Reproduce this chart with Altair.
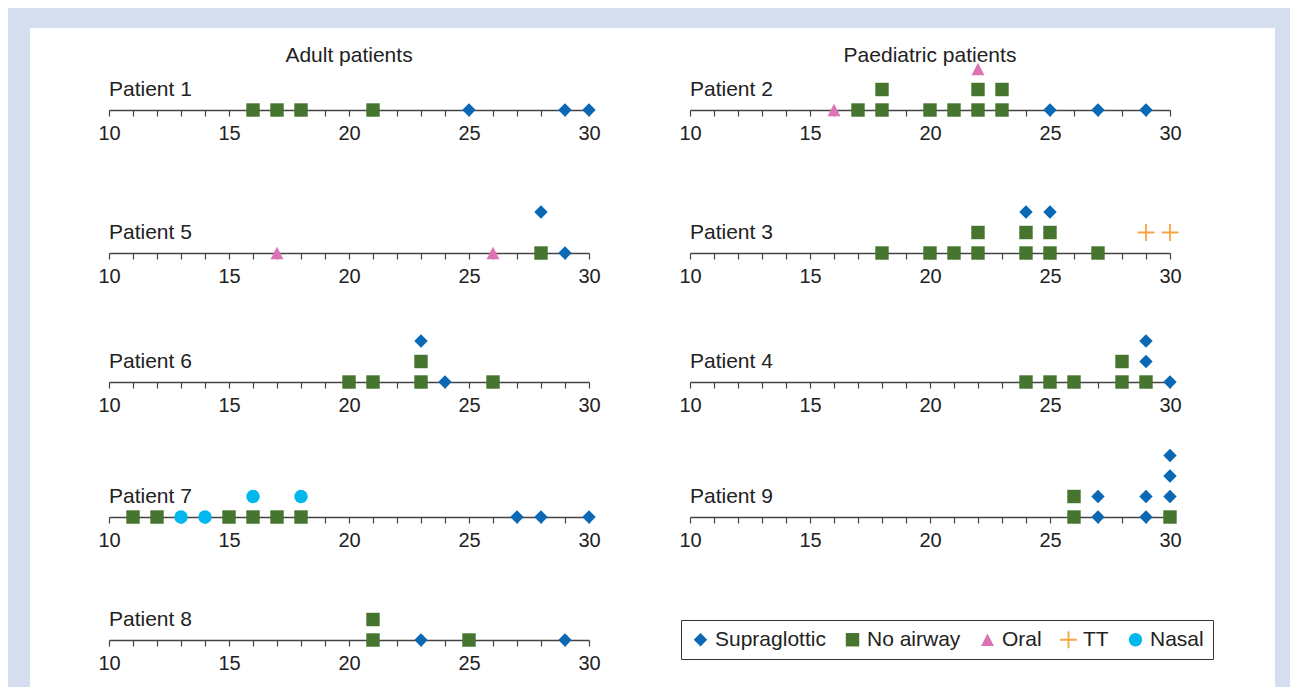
import altair as alt
import pandas as pd

# ---------------- data ----------------
TYPES = ["Supraglottic", "No airway", "Oral", "TT", "Nasal"]
COLORS = ["#0a68b4", "#46752f", "#dd72b4", "#f9a444", "#00b8ee"]
PLUS = "M-1.25,-0.14H-0.14V-1.25H0.14V-0.14H1.25V0.14H0.14V1.25H-0.14V0.14H-1.25Z"
TRI = "M0,-0.92L0.96,0.92L-0.96,0.92Z"
SHAPES = ["diamond", "square", TRI, PLUS, "circle"]
S, N, O, T, NA = TYPES

p1_values = [16, 17, 18, 21, 25, 29, 30]
p1_types = [N, N, N, N, S, S, S]
p1_levels = [0, 0, 0, 0, 0, 0, 0]

p2_values = [16, 22, 17, 18, 18, 20, 21, 22, 22, 23, 23, 25, 27, 29]
p2_types = [O, O, N, N, N, N, N, N, N, N, N, S, S, S]
p2_levels = [0, 2, 0, 0, 1, 0, 0, 0, 1, 0, 1, 0, 0, 0]

p5_values = [17, 26, 28, 28, 29]
p5_types = [O, O, N, S, S]
p5_levels = [0, 0, 0, 2, 0]

p3_values = [18, 20, 21, 22, 22, 24, 24, 25, 25, 27, 24, 25, 29, 30]
p3_types = [N, N, N, N, N, N, N, N, N, N, S, S, T, T]
p3_levels = [0, 0, 0, 0, 1, 0, 1, 0, 1, 0, 2, 2, 1, 1]

p6_values = [20, 21, 23, 23, 26, 23, 24]
p6_types = [N, N, N, N, N, S, S]
p6_levels = [0, 0, 0, 1, 0, 2, 0]

p4_values = [24, 25, 26, 28, 28, 29, 29, 29, 30]
p4_types = [N, N, N, N, N, N, S, S, S]
p4_levels = [0, 0, 0, 0, 1, 0, 1, 2, 0]

p7_values = [11, 12, 15, 16, 17, 18, 13, 14, 16, 18, 27, 28, 30]
p7_types = [N, N, N, N, N, N, NA, NA, NA, NA, S, S, S]
p7_levels = [0, 0, 0, 0, 0, 0, 0, 0, 1, 1, 0, 0, 0]

p9_values = [26, 26, 30, 27, 27, 29, 29, 30, 30, 30]
p9_types = [N, N, N, S, S, S, S, S, S, S]
p9_levels = [0, 1, 0, 0, 1, 0, 1, 1, 2, 3]

p8_values = [21, 21, 25, 23, 29]
p8_types = [N, N, N, S, S]
p8_levels = [0, 1, 0, 0, 0]

TICKS = list(range(10, 31))

# ---------------- layout ----------------
FONT = "Liberation Sans"
LV = 20.5          # pixels per stack level
W = 480
GAP = 101
ROW_H = [39, 143, 129, 135, 123]

LEG = alt.Legend(
    title=None, orient="none", legendX=572, legendY=559, direction="horizontal",
    labelFontSize=21, labelFont=FONT, labelColor="#222", symbolSize=180,
    symbolStrokeWidth=0, symbolOpacity=1, columnPadding=16, labelOffset=4,
    padding=9, strokeColor="#333", fillColor="white", labelLimit=300,
)


def panel(name, values, types, levels, h, title=None):
    df = pd.DataFrame({"value": values, "type": types, "level": levels})
    pts = alt.Chart(df).mark_point(filled=True, opacity=1, size=180, strokeWidth=0).encode(
        x=alt.X("value:Q", scale=alt.Scale(domain=[10, 30], nice=False, zero=False),
                axis=alt.Axis(values=TICKS, tickCount=len(TICKS), title=None, labelOverlap=False,
                              labelExpr="datum.value % 5 === 0 ? datum.label : ''")),
        y=alt.Y("level:Q", scale=alt.Scale(domain=[0, h / LV], nice=False, zero=False), axis=None),
        color=alt.Color("type:N", scale=alt.Scale(domain=TYPES, range=COLORS), legend=LEG),
        shape=alt.Shape("type:N", scale=alt.Scale(domain=TYPES, range=SHAPES), legend=LEG),
    )
    lab = alt.Chart(pd.DataFrame({"t": [name]})).mark_text(
        align="left", baseline="middle", fontSize=21, font=FONT, color="#222"
    ).encode(x=alt.datum(10), y=alt.datum(1), text="t:N")
    layers = [pts, lab]
    if title:
        layers.append(alt.Chart(pd.DataFrame({"t": [title]})).mark_text(
            align="center", baseline="middle", fontSize=21, font=FONT, color="#222"
        ).encode(x=alt.datum(20), y=alt.value(-15), text="t:N"))
    return alt.layer(*layers).properties(width=W, height=h)


header_bg = alt.Chart(pd.DataFrame({"a": [0]})).mark_rect(color="white").encode(
    x=alt.value(-79), x2=alt.value(1166), y=alt.value(-33), y2=alt.value(626)
).properties(width=W, height=10)
header_empty = alt.Chart(pd.DataFrame({"a": [0]})).mark_rect(opacity=0).encode(
    x=alt.value(0), x2=alt.value(1), y=alt.value(0), y2=alt.value(1)
).properties(width=W, height=10)

cells = [
    header_bg, header_empty,
    panel("Patient 1", p1_values, p1_types, p1_levels, ROW_H[0], "Adult patients"),
    panel("Patient 2", p2_values, p2_types, p2_levels, ROW_H[0], "Paediatric patients"),
    panel("Patient 5", p5_values, p5_types, p5_levels, ROW_H[1]),
    panel("Patient 3", p3_values, p3_types, p3_levels, ROW_H[1]),
    panel("Patient 6", p6_values, p6_types, p6_levels, ROW_H[2]),
    panel("Patient 4", p4_values, p4_types, p4_levels, ROW_H[2]),
    panel("Patient 7", p7_values, p7_types, p7_levels, ROW_H[3]),
    panel("Patient 9", p9_values, p9_types, p9_levels, ROW_H[3]),
    panel("Patient 8", p8_values, p8_types, p8_levels, ROW_H[4]),
]

chart = alt.concat(*cells, columns=2, spacing={"row": 0, "column": GAP},
                   bounds="flush", align="each").properties(
    padding={"left": 22, "top": 20, "right": 15, "bottom": 0},
    background="#d5deef",
).configure_view(stroke=None).configure_axis(
    grid=False, domainColor="#444", domainWidth=1.3, tickColor="#444", tickWidth=1.2,
    tickSize=6, labelFontSize=20, labelFont=FONT, labelColor="#222", labelPadding=7,
    labelFlush=False, labelOverlap=False,
).configure_text(font=FONT)

chart.save("out.html", embed_options={"renderer": "svg", "actions": False})
